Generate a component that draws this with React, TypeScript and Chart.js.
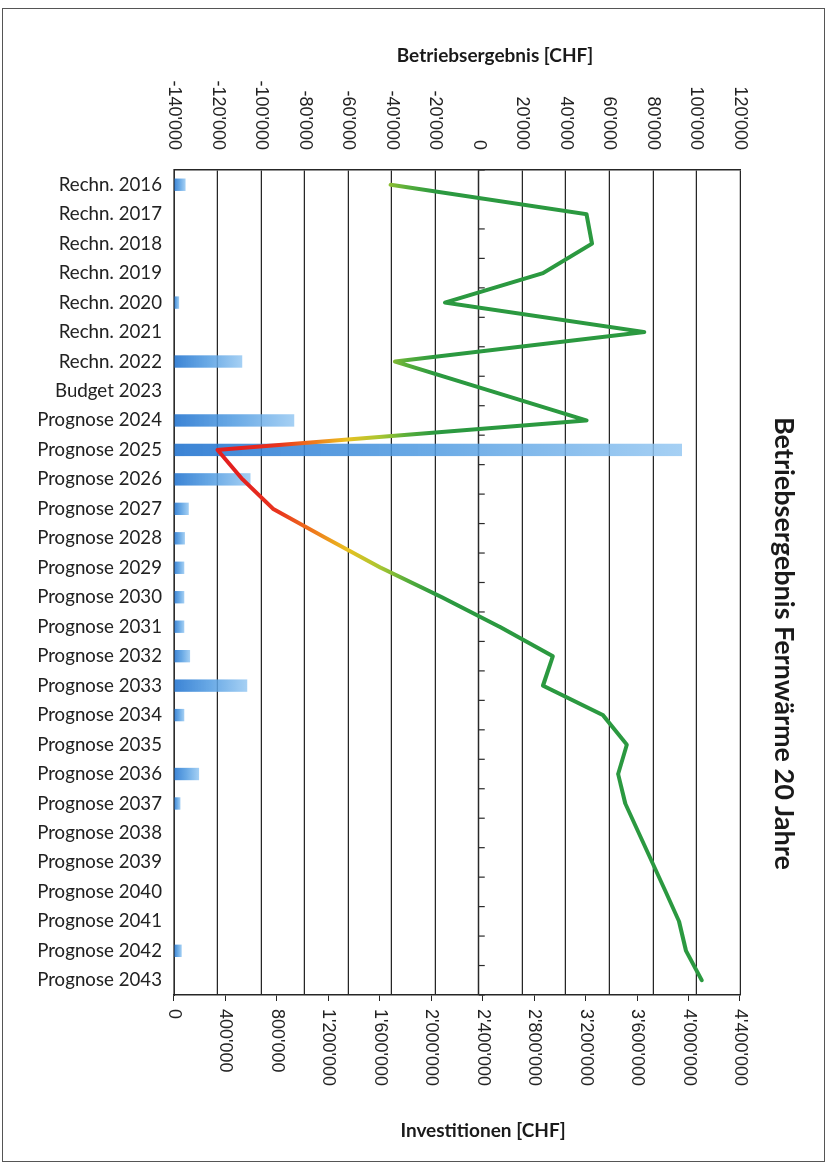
import React, { useEffect, useRef } from 'react';
import { Chart, registerables } from 'chart.js';

Chart.register(...registerables);

// ---- data ----
const categories = [
  'Rechn. 2016', 'Rechn. 2017', 'Rechn. 2018', 'Rechn. 2019', 'Rechn. 2020', 'Rechn. 2021', 'Rechn. 2022',
  'Budget 2023',
  'Prognose 2024', 'Prognose 2025', 'Prognose 2026', 'Prognose 2027', 'Prognose 2028', 'Prognose 2029',
  'Prognose 2030', 'Prognose 2031', 'Prognose 2032', 'Prognose 2033', 'Prognose 2034', 'Prognose 2035',
  'Prognose 2036', 'Prognose 2037', 'Prognose 2038', 'Prognose 2039', 'Prognose 2040', 'Prognose 2041',
  'Prognose 2042', 'Prognose 2043',
];

const investitionen = [
  90000, 0, 0, 0, 40000, 0, 530000,
  0,
  935000, 3950000, 595000, 115000, 85000, 80000,
  80000, 80000, 125000, 570000, 80000, 0,
  195000, 50000, 0, 0, 0, 0,
  60000, 0,
];

const betriebsergebnis = [
  -40500, 49500, 52000, 29500, -15500, 76000, -38500,
  5500,
  49500, -120000, -108500, -94500, -70000, -45000,
  -17000, 9500, 34000, 29500, 57000, 68000,
  64000, 67300, 73500, 79700, 85900, 92000,
  95200, 102400,
];

const ergebnisRange = [-140000, 120000];
const ergebnisStep = 20000;
const investRange = [0, 4400000];
const investStep = 400000;

const mainTitle = 'Betriebsergebnis Fernwärme 20 Jahre';
const ergebnisTitle = 'Betriebsergebnis [CHF]';
const investTitle = 'Investitionen [CHF]';

// ---- layout (canvas is drawn as a vertical chart and rotated 90° clockwise) ----
const W = 1164;
const H = 833;

const fmt = (v: number | string) => {
  const n = Number(v);
  const s = Math.abs(n).toFixed(0).replace(/\B(?=(\d{3})+(?!\d))/g, "'");
  return (n < 0 ? '-' : '') + s;
};

const zeroAxisPlugin = {
  id: 'zeroAxis',
  beforeDatasetsDraw(chart: any) {
    const { ctx, chartArea, scales } = chart;
    const y0 = scales.yErg.getPixelForValue(0);
    const xs = scales.x;
    ctx.save();
    ctx.strokeStyle = '#2b2b2b';
    ctx.lineWidth = 1.2;
    ctx.beginPath();
    ctx.moveTo(chartArea.left, y0);
    ctx.lineTo(chartArea.right, y0);
    for (let i = 0; i <= categories.length; i++) {
      const bx = xs.getPixelForValue(i - 0.5);
      ctx.moveTo(bx, y0);
      ctx.lineTo(bx, y0 - 6);
    }
    ctx.stroke();
    ctx.restore();
  },
};

const barColor = (c: any) => {
  const chart = c.chart;
  const s = chart.scales && chart.scales.yInv;
  if (c.type !== 'data' || !s || !chart.chartArea) return 'rgba(50,130,215,0.85)';
  const y0 = s.getPixelForValue(0);
  const y1 = s.getPixelForValue(c.raw || 0);
  if (Math.abs(y0 - y1) < 1) return 'rgba(50,130,215,0.85)';
  const g = chart.ctx.createLinearGradient(0, y0, 0, y1);
  g.addColorStop(0, 'rgba(38,118,208,0.9)');
  g.addColorStop(0.5, 'rgba(80,155,225,0.85)');
  g.addColorStop(1, 'rgba(150,200,242,0.85)');
  return g;
};

const lineColor = (c: any) => {
  const chart = c.chart;
  const s = chart.scales && chart.scales.yErg;
  if (!s || !chart.chartArea) return '#2b9940';
  const g = chart.ctx.createLinearGradient(0, s.getPixelForValue(-110000), 0, s.getPixelForValue(-20000));
  g.addColorStop(0, '#e3201f');
  g.addColorStop(0.2, '#e8341e');
  g.addColorStop(0.38, '#ef7a1c');
  g.addColorStop(0.55, '#e9c020');
  g.addColorStop(0.72, '#a8c632');
  g.addColorStop(0.86, '#56ad3a');
  g.addColorStop(1, '#2b9940');
  return g;
};

export default function App() {
  const ref = useRef<HTMLCanvasElement>(null);

  useEffect(() => {
    const canvas = ref.current;
    if (!canvas) return;
    const tickFont = { family: '"Liberation Sans", Arial, sans-serif', size: 18 };
    const chart = new Chart(canvas, {
      type: 'bar',
      data: {
        labels: categories,
        datasets: [
          {
            type: 'line',
            label: ergebnisTitle,
            data: betriebsergebnis,
            yAxisID: 'yErg',
            borderColor: lineColor,
            borderWidth: 4,
            pointRadius: 0,
            tension: 0,
            borderJoinStyle: 'round',
            borderCapStyle: 'round',
            order: 1,
          } as any,
          {
            type: 'bar',
            label: investTitle,
            data: investitionen,
            yAxisID: 'yInv',
            backgroundColor: barColor,
            barPercentage: 0.42,
            categoryPercentage: 1,
            order: 2,
          } as any,
        ],
      },
      options: {
        responsive: false,
        animation: false,
        devicePixelRatio: 1,
        layout: { padding: { top: 93, left: 0, right: 0, bottom: 0 } },
        plugins: {
          legend: { display: false },
          tooltip: { enabled: false },
          title: { display: false },
        },
        scales: {
          x: {
            type: 'category',
            position: 'bottom',
            offset: true,
            grid: { display: false, drawTicks: false },
            border: { display: true, color: '#2b2b2b', width: 1.5 },
            ticks: {
              minRotation: 90,
              maxRotation: 90,
              autoSkip: false,
              padding: 12,
              color: '#222',
              font: { family: 'Lato, sans-serif', size: 18.7 },
            },
            afterFit: (s: any) => { s.height = H - 659; },
          },
          yErg: {
            type: 'linear',
            position: 'left',
            min: ergebnisRange[0],
            max: ergebnisRange[1],
            ticks: { stepSize: ergebnisStep, padding: 20, color: '#222', font: tickFont, callback: fmt },
            grid: { color: '#262626', lineWidth: 1.2, drawTicks: false },
            border: { display: true, color: '#262626', width: 1.5 },
            afterFit: (s: any) => { s.width = 170; },
          },
          yInv: {
            type: 'linear',
            position: 'right',
            min: investRange[0],
            max: investRange[1],
            ticks: { stepSize: investStep, padding: 8, color: '#222', font: tickFont, callback: fmt },
            grid: { drawOnChartArea: false, drawTicks: true, tickLength: 6, color: '#262626' },
            border: { display: true, color: '#262626', width: 1.5 },
            afterFit: (s: any) => { s.width = W - 995; },
          },
        },
      } as any,
      plugins: [zeroAxisPlugin],
    });
    return () => chart.destroy();
  }, []);

  const titleFont = 'Lato, sans-serif';

  return (
    <div style={{ position: 'absolute', left: 0, top: 0, width: 833, height: 1164, overflow: 'hidden', background: '#fff' }}>
      <div
        style={{
          position: 'absolute',
          left: 0,
          top: 0,
          width: W,
          height: H,
          transformOrigin: '0 0',
          transform: `translate(${H}px, 0px) rotate(90deg)`,
        }}
      >
        <canvas ref={ref} width={W} height={H} style={{ display: 'block', width: W, height: H }} />
      </div>
      <div
        style={{
          position: 'absolute', left: 2, top: 8, width: 823, height: 1154,
          border: '1.5px solid #555', boxSizing: 'border-box', pointerEvents: 'none',
        }}
      />
      <div
        style={{
          position: 'absolute', left: 769, top: 343, width: 32, height: 600,
          writingMode: 'vertical-rl', textAlign: 'center', lineHeight: '32px',
          fontFamily: titleFont, fontWeight: 700, fontSize: 27, color: '#1a1a1a', whiteSpace: 'nowrap',
        }}
      >
        {mainTitle}
      </div>
      <div
        style={{
          position: 'absolute', left: 345, top: 44, width: 300, height: 22, lineHeight: '22px',
          textAlign: 'center', fontFamily: titleFont, fontWeight: 700, fontSize: 19, color: '#1a1a1a',
        }}
      >
        {ergebnisTitle}
      </div>
      <div
        style={{
          position: 'absolute', left: 333, top: 1119, width: 300, height: 22, lineHeight: '22px',
          textAlign: 'center', fontFamily: titleFont, fontWeight: 700, fontSize: 19, color: '#1a1a1a',
        }}
      >
        {investTitle}
      </div>
    </div>
  );
}
